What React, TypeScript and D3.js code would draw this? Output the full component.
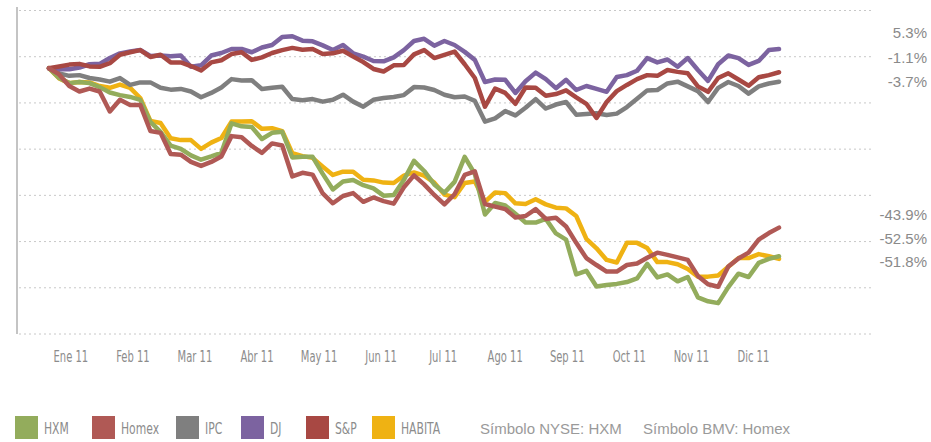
import React from 'react';
import * as d3 from 'd3';

// ---------- DATA ----------
const dates: string[] = [
  '2011-01-03','2011-01-08','2011-01-13','2011-01-18','2011-01-23','2011-01-28',
  '2011-02-02','2011-02-07','2011-02-12','2011-02-17','2011-02-22','2011-02-27',
  '2011-03-04','2011-03-09','2011-03-14','2011-03-19','2011-03-24','2011-03-29',
  '2011-04-03','2011-04-08','2011-04-13','2011-04-18','2011-04-23','2011-04-28',
  '2011-05-03','2011-05-08','2011-05-13','2011-05-18','2011-05-23','2011-05-28',
  '2011-06-02','2011-06-07','2011-06-12','2011-06-17','2011-06-22','2011-06-27',
  '2011-07-02','2011-07-07','2011-07-12','2011-07-17','2011-07-22','2011-07-27',
  '2011-08-01','2011-08-06','2011-08-11','2011-08-16','2011-08-21','2011-08-26','2011-08-31',
  '2011-09-05','2011-09-10','2011-09-15','2011-09-20','2011-09-25','2011-09-30',
  '2011-10-05','2011-10-10','2011-10-15','2011-10-20','2011-10-25','2011-10-30',
  '2011-11-04','2011-11-09','2011-11-14','2011-11-19','2011-11-24','2011-11-29',
  '2011-12-04','2011-12-09','2011-12-14','2011-12-19','2011-12-24','2011-12-29',
];

const months = ['Ene 11','Feb 11','Mar 11','Abr 11','May 11','Jun 11','Jul 11','Ago 11','Sep 11','Oct 11','Nov 11','Dic 11'];

// % change vs. start of year
const HXM = [
  0, -2.7, -4.1, -3.8, -4.1, -5.2, -6.7, -7.4, -7.9, -8.7,
  -14.8, -17.5, -21.3, -22.2, -24.0, -25.2, -24.3, -23.3, -15.2, -16.0,
  -16.2, -19.5, -17.8, -17.5, -24.6, -24.4, -24.4, -29.1, -33.4, -31.2,
  -30.8, -32.2, -33.1, -35.1, -34.9, -30.8, -25.5, -28.3, -32.0, -34.3,
  -31.3, -24.4, -29.1, -40.3, -37.1, -37.8, -40.1, -42.5, -42.5, -41.5,
  -45.5, -47.2, -56.8, -55.8, -60.1, -59.7, -59.4, -58.9, -57.9, -53.9,
  -57.6, -56.8, -58.7, -57.5, -63.1, -64.2, -64.7, -60.3, -56.6, -57.5,
  -53.6, -52.5, -51.8,
];
const Homex = [
  0, -1.7, -4.9, -6.4, -5.6, -6.4, -11.9, -8.7, -10.1, -10.1,
  -17.3, -17.8, -23.6, -23.8, -25.8, -26.9, -25.8, -24.3, -18.7, -19.0,
  -21.4, -23.3, -20.7, -21.3, -29.8, -28.8, -29.3, -34.5, -37.2, -35.2,
  -34.4, -36.8, -35.6, -36.6, -37.3, -32.8, -29.5, -32.0, -34.9, -37.5,
  -34.7, -29.4, -28.4, -37.4, -38.1, -38.8, -41.1, -40.7, -38.8, -41.5,
  -41.2, -43.6, -48.1, -52.3, -54.2, -56.0, -56.0, -54.2, -53.8, -52.2,
  -50.8, -51.4, -52.1, -52.8, -57.2, -59.5, -60.2, -54.6, -52.4, -50.8,
  -47.2, -45.4, -43.9,
];
const IPC = [
  0, -1.4, -2.1, -1.9, -2.7, -3.1, -3.7, -2.7, -4.6, -3.9,
  -3.9, -5.4, -5.9, -5.7, -6.4, -8.0, -6.8, -5.3, -3.0, -3.4,
  -3.3, -5.7, -5.4, -5.1, -8.5, -8.8, -8.5, -9.2, -8.7, -7.3,
  -9.2, -10.6, -8.7, -8.2, -7.9, -7.4, -5.2, -5.3, -6.0, -7.3,
  -8.0, -7.8, -9.0, -14.7, -13.8, -11.8, -13.0, -10.9, -8.5, -11.1,
  -10.0, -9.3, -12.8, -12.6, -12.4, -12.9, -12.5, -10.7, -8.4, -6.1,
  -6.0, -4.2, -3.7, -5.0, -6.3, -9.3, -5.4, -3.8, -4.9, -7.0,
  -5.0, -4.2, -3.7,
];
const DJ = [
  0, -0.3, -0.3, 0.2, 1.1, 1.2, 2.8, 4.1, 4.6, 5.0,
  3.4, 3.5, 3.3, 3.5, 0.4, 0.8, 3.5, 4.2, 5.3, 5.3,
  4.4, 5.7, 6.4, 8.6, 8.8, 7.6, 7.4, 6.3, 5.0, 6.4,
  4.1, 3.2, 2.0, 1.9, 3.0, 5.0, 7.5, 8.1, 6.2, 7.5,
  6.4, 4.5, 2.3, -3.8, -3.1, -3.2, -6.8, -3.6, -1.2, -3.0,
  -5.5, -3.2, -6.0, -4.9, -5.7, -6.5, -2.4, -1.9, -0.7, 2.8,
  1.6, 2.4, 0.4, 2.8, -0.5, -3.5, 1.1, 3.5, 2.8, 0.9,
  2.0, 5.0, 5.3,
];
const SP = [
  0, 0.5, 1.0, 1.2, 0.5, 0.4, 1.4, 3.7, 4.4, 5.0,
  3.1, 3.7, 1.6, 1.6, 0.6, -0.6, 1.6, 2.2, 3.9, 4.4,
  2.3, 3.0, 4.2, 5.0, 5.6, 5.1, 5.3, 3.9, 4.1, 4.8,
  3.2, 1.7, -0.2, -0.9, 0.8, 0.9, 3.8, 5.0, 2.8, 3.7,
  4.6, 1.1, -2.7, -10.6, -5.6, -6.8, -9.8, -5.3, -5.4, -7.6,
  -7.1, -6.1, -8.0, -9.8, -13.7, -9.3, -6.3, -4.6, -3.0, -1.9,
  -2.1, -0.5, -1.0, -1.4, -5.0, -6.5, -2.7, -1.4, -3.1, -4.8,
  -2.5, -1.9, -1.1,
];
const HABITA = [
  0, -2.8, -4.1, -3.8, -3.9, -4.9, -5.4, -4.5, -5.4, -8.2,
  -14.5, -15.1, -19.3, -19.8, -19.8, -22.2, -20.5, -19.2, -14.7, -14.7,
  -14.6, -16.7, -16.5, -17.3, -23.4, -24.2, -24.7, -27.1, -29.4, -28.5,
  -28.5, -30.7, -30.9, -31.5, -31.6, -29.6, -28.7, -29.6, -31.5, -34.8,
  -35.5, -31.6, -31.2, -36.8, -34.2, -34.4, -37.2, -37.4, -36.1, -37.5,
  -38.4, -38.6, -40.7, -47.0, -49.6, -52.8, -53.5, -48.1, -48.1, -49.5,
  -53.4, -53.4, -54.0, -55.3, -57.4, -57.4, -57.1, -54.7, -52.3, -52.3,
  -51.2, -51.8, -52.5,
];

const legendNames = ['HXM', 'Homex', 'IPC', 'DJ', 'S&P', 'HABITA'];
const legendColors = ['#93ac5c', '#b05955', '#7f7f7f', '#7c63a0', '#a84843', '#efb213'];
const topLabels = ['5.3%', '-1.1%', '-3.7%'];
const bottomLabels = ['-43.9%', '-52.5%', '-51.8%'];
const symbolTexts = ['Símbolo NYSE: HXM', 'Símbolo BMV: Homex'];

// ---------- LAYOUT ----------
const W = 931, H = 442;
const narrow = "'Liberation Sans Narrow', 'Arial Narrow', 'DejaVu Sans Condensed', sans-serif";
const regular = "'Liberation Sans', Arial, sans-serif";

export default function App() {
  const parse = d3.timeParse('%Y-%m-%d');
  const dts = dates.map((d) => parse(d) as Date);
  const x = d3.scaleTime().domain([dts[0], dts[dts.length - 1]]).range([49, 779]);
  const y = d3.scaleLinear().domain([-73.2, 15.9]).range([334, 10.5]);
  const xm = d3.scaleBand().domain(months).range([39.8, 784.4]);

  const gridVals = d3.range(8).map((i) => -73.2 + (i * (15.9 + 73.2)) / 7);

  const line = d3
    .line<number>()
    .x((_, i) => x(dts[i]))
    .y((v) => y(v))
    .curve(d3.curveLinear);

  const colorOf = (n: string) => legendColors[legendNames.indexOf(n)];
  const drawOrder: [string, number[]][] = [
    ['HABITA', HABITA],
    ['HXM', HXM],
    ['IPC', IPC],
    ['DJ', DJ],
    ['S&P', SP],
    ['Homex', Homex],
  ];

  const legendX = [15, 92, 176, 241, 306, 372];
  const symbolX = [480, 643];

  return (
    <svg width={W} height={H} style={{ position: 'absolute', left: 0, top: 0, background: '#fff' }}>
      {/* grid */}
      {gridVals.map((v, i) => (
        <line key={i} x1={19} x2={873} y1={y(v)} y2={y(v)} stroke="#c8c8c8" strokeWidth={1} strokeDasharray="2,3" />
      ))}
      {/* left axis */}
      <line x1={17} x2={17} y1={7} y2={334} stroke="#c4c4c4" strokeWidth={2} />

      {/* series */}
      {drawOrder.map(([n, vals]) => (
        <path key={n} d={line(vals) || ''} fill="none" stroke={colorOf(n)} strokeWidth={4.5} strokeLinejoin="round" strokeLinecap="round" />
      ))}

      {/* x labels */}
      {months.map((m) => (
        <text
          key={m}
          transform={`translate(${(xm(m) || 0) + xm.bandwidth() / 2},362) scale(0.74,1)`}
          textAnchor="middle"
          fontFamily={narrow}
          fontSize={15}
          fill="#8c8c8c"
        >
          {m}
        </text>
      ))}

      {/* end labels */}
      {topLabels.map((t, i) => (
        <text key={t} x={927} y={38 + i * 24.5} textAnchor="end" fontFamily={regular} fontSize={15} fill="#8a8a8a">
          {t}
        </text>
      ))}
      {bottomLabels.map((t, i) => (
        <text key={t} x={927} y={220 + i * 23.5} textAnchor="end" fontFamily={regular} fontSize={15} fill="#8a8a8a">
          {t}
        </text>
      ))}

      {/* legend */}
      {legendNames.map((n, i) => (
        <g key={n}>
          <rect x={legendX[i]} y={416} width={23} height={23} fill={legendColors[i]} />
          <text
            transform={`translate(${legendX[i] + 29},434) scale(0.8,1)`}
            fontFamily={narrow}
            fontSize={15}
            fill="#8c8c8c"
          >
            {n}
          </text>
        </g>
      ))}
      {symbolTexts.map((t, i) => (
        <text key={t} x={symbolX[i]} y={434} fontFamily={regular} fontSize={15} fill="#9a9a9a">
          {t}
        </text>
      ))}
    </svg>
  );
}
